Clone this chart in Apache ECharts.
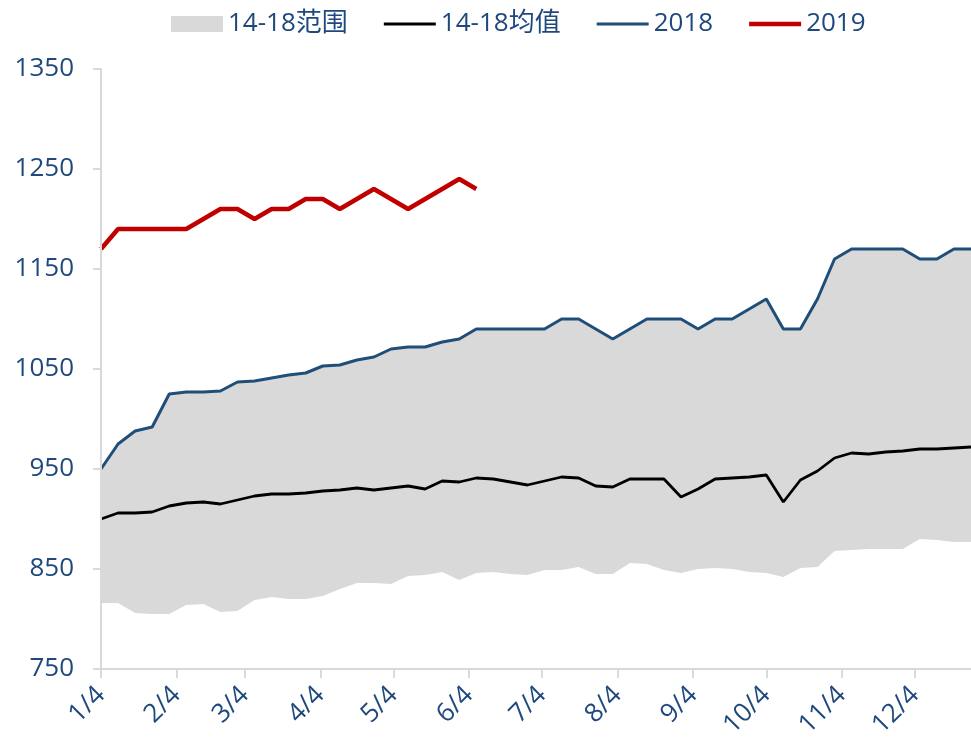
<!DOCTYPE html>
<html><head><meta charset="utf-8">
<script src="https://cdn.jsdelivr.net/npm/echarts@6/dist/echarts.min.js"></script>
<style>html,body{margin:0;padding:0;background:#fff}#c{width:971px;height:744px}</style>
</head><body><div id="c"></div>
<script>
// x-axis tick labels (month/day)
const xTickLabels = ['1/4','2/4','3/4','4/4','5/4','6/4','7/4','8/4','9/4','10/4','11/4','12/4'];
const yearOfData = 2019;
const firstWeek = '1/4';

// 14-18 range lower bound
const rangeMin = [816,816,806,805,805,814,815,807,808,819,
  822,820,820,823,830,836,836,835,843,844,
  847,839,846,847,845,844,849,849,852,845,
  845,856,855,849,846,850,851,850,847,846,
  842,851,852,868,869,870,870,870,880,879,
  877,877];
// 14-18 range upper bound
const rangeMax = [950,975,988,992,1025,1027,1027,1028,1037,1038,
  1041,1044,1046,1053,1054,1059,1062,1070,1072,1072,
  1077,1080,1090,1090,1090,1090,1090,1100,1100,1090,
  1080,1090,1100,1100,1100,1090,1100,1100,1110,1120,
  1090,1090,1120,1160,1170,1170,1170,1170,1160,1160,
  1170,1170];
// 14-18 mean
const mean1418 = [900,906,906,907,913,916,917,915,919,923,
  925,925,926,928,929,931,929,931,933,930,
  938,937,941,940,937,934,938,942,941,933,
  932,940,940,940,922,930,940,941,942,944,
  917,939,948,961,966,965,967,968,970,970,
  971,972];
// 2018
const y2018 = [950,975,988,992,1025,1027,1027,1028,1037,1038,
  1041,1044,1046,1053,1054,1059,1062,1070,1072,1072,
  1077,1080,1090,1090,1090,1090,1090,1100,1100,1090,
  1080,1090,1100,1100,1100,1090,1100,1100,1110,1120,
  1090,1090,1120,1160,1170,1170,1170,1170,1160,1160,
  1170,1170];
// 2019
const y2019 = [1170,1190,1190,1190,1190,1190,1200,1210,1210,1200,
  1210,1210,1220,1220,1210,1220,1230,1220,1210,1220,
  1230,1240,1230];

const yTicks = {min: 750, max: 1350, step: 100};

function dayOffset(md) {
  const [m, d] = md.split('/').map(Number);
  const [m0, d0] = firstWeek.split('/').map(Number);
  return Math.round((Date.UTC(yearOfData, m - 1, d) - Date.UTC(yearOfData, m0 - 1, d0)) / 86400000);
}
const tickDays = xTickLabels.map(dayOffset);
const labelByDay = {};
tickDays.forEach((d, i) => labelByDay[d] = xTickLabels[i]);
const toPts = arr => arr.map((v, i) => [i * 7, v]);

const txt = '#1F497D';
const font = "'Open Sans','Noto Sans CJK SC',sans-serif";
const chart = echarts.init(document.getElementById('c'));
chart.setOption({
  animation: false,
  backgroundColor: '#fff',
  grid: {left: 101, right: 0, top: 69, bottom: 75, containLabel: false},
  legend: {
    left: 166, top: 6, itemWidth: 52, itemHeight: 16, itemGap: 36,
    textStyle: {color: txt, fontSize: 26, fontFamily: font},
    data: [
      {name: '14-18范围', icon: 'rect', itemStyle: {color: '#D9D9D9'}},
      {name: '14-18均值', icon: 'path://M0,0H52V3H0Z'},
      {name: '2018', icon: 'path://M0,0H52V3H0Z'},
      {name: '2019', icon: 'path://M0,0H52V4.5H0Z'}
    ]
  },
  xAxis: {
    type: 'value', min: 0, max: (rangeMax.length - 1) * 7, z: 10,
    splitLine: {show: false},
    axisLine: {show: true, lineStyle: {color: '#D9D9D9', width: 2}},
    axisTick: {show: true, customValues: tickDays, length: 9, lineStyle: {color: '#D9D9D9', width: 2}},
    axisLabel: {
      customValues: tickDays, rotate: 45, margin: 22,
      color: txt, fontSize: 26, fontFamily: font,
      formatter: v => labelByDay[v] || ''
    }
  },
  yAxis: {
    type: 'value', min: yTicks.min, max: yTicks.max, interval: yTicks.step, z: 10,
    splitLine: {show: false},
    axisLine: {show: true, lineStyle: {color: '#D9D9D9', width: 2}},
    axisTick: {show: true, inside: false, length: 8, lineStyle: {color: '#D9D9D9', width: 2}},
    axisLabel: {color: txt, fontSize: 26, fontFamily: font, margin: 27, formatter: v => String(v)}
  },
  series: [
    {
      name: '14-18范围', type: 'line',
      data: toPts(rangeMax),
      symbol: 'none', silent: true, lineStyle: {opacity: 0},
      itemStyle: {color: '#D9D9D9'},
      areaStyle: {color: '#D9D9D9', opacity: 1, origin: 'start'}, z: 1
    },
    {
      name: 'rangeLow', type: 'line', data: toPts(rangeMin),
      symbol: 'none', silent: true, lineStyle: {opacity: 0},
      areaStyle: {color: '#FFFFFF', opacity: 1, origin: 'start'}, z: 1
    },
    {
      name: '14-18均值', type: 'line', data: toPts(mean1418), symbol: 'none',
      itemStyle: {color: '#000000'}, lineStyle: {color: '#000000', width: 2.8}, z: 3
    },
    {
      name: '2018', type: 'line', data: toPts(y2018), symbol: 'none',
      itemStyle: {color: '#1F4E79'}, lineStyle: {color: '#1F4E79', width: 3}, z: 4
    },
    {
      name: '2019', type: 'line', data: toPts(y2019), symbol: 'none',
      itemStyle: {color: '#C00000'}, lineStyle: {color: '#C00000', width: 4.5}, z: 5
    }
  ]
});
</script>
</body></html>
